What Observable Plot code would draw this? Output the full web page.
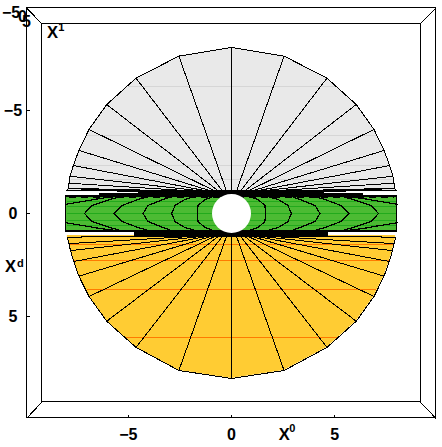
<!DOCTYPE html>
<html><head><meta charset="utf-8">
<script src="https://cdn.jsdelivr.net/npm/d3@7"></script>
<script src="https://cdn.jsdelivr.net/npm/@observablehq/plot@0.6"></script>
<style>html,body{margin:0;padding:0;background:#fff}svg{display:block}</style>
</head><body><div id="c"></div>
<script>
// left half of the fan, from the top of the circle out to the horizontal
const topOuterX = [0,-2.55,-4.63,-6.05,-6.91,-7.40,-7.67,-7.83,-7.88,-7.91,-7.98];
const topOuterY = [-8.06,-7.64,-6.57,-5.29,-4.08,-3.06,-2.33,-1.81,-1.47,-1.23,-1.12];
const botOuterX = [0,-2.55,-4.63,-6.05,-6.91,-7.40,-7.65,-7.81,-7.88,-7.96];
const botOuterY = [8.01,7.62,6.50,5.23,4.03,3.04,2.33,1.80,1.46,1.15];
const innerX = [0,-0.23,-0.41,-0.58,-0.72,-0.85,-0.97,-1.05,-1.2,-1.5,-2.0];
const flatSpokesX = [-7.3,-6.3,-5.2];
// horizontal mesh lines
const greyLineY = [-6.16,-3.77,-2.34,-1.66];
const greyLineHalf = [5.0,7.0,7.6,7.8];
const orangeLineY = [1.50,2.28,3.70,6.02];
const orangeLineHalf = [7.85,7.65,7.0,5.1];
const greenLineY = [-0.56,-0.34,0,0.34,0.58];
// green-band curves: x at each |y| level
const curveY = [0,0.39,0.68,0.85];
const curve1 = [-1.66,-1.62,-1.29,-0.80];
const curve2 = [-2.90,-2.74,-2.26,-1.67];
const curve3 = [-4.29,-4.05,-3.32,-2.84];
const curve4 = [-5.70,-5.31,-4.53,-3.95];
const curve5 = [-7.13,-6.77,-5.89,-5.31];
const armX = [-8.03,-7.10,-6.38,-5.40];
const armY = [0.45,0.60,0.73,0.85];
// dense black mesh bands
const bandX1 = [-8.03,-6.4,-4.5,-4.68,-8.03];
const bandX2 = [-6.4,-4.5,0,-0.5,-4.68];
const bandY1 = [-0.85,-0.97,-1.12,0.87,0.83];
const bandY2 = [-0.76,-0.76,-0.76,1.17,0.90];

const xTicks = [-5,0,5];
const yTicks = [-5,0,5];
const tickLabel = v => v < 0 ? "\u2212" + (-v) : String(v);

const bothSides = (xs, f) => xs.flatMap((x,i)=> x===0 ? [f(0,i)] : [f(x,i), f(-x,i)]);
const spokes = [
  ...bothSides(topOuterX,(x,i)=>({x1:x,y1:topOuterY[i],x2:x===0?0:Math.sign(x)*Math.abs(innerX[i]),y2:-1.05})),
  ...bothSides(botOuterX,(x,i)=>({x1:x,y1:botOuterY[i],x2:x===0?0:Math.sign(x)*Math.abs(innerX[i]),y2:1.07})),
  ...bothSides(flatSpokesX,(x)=>({x1:x,y1:-1.16,x2:Math.sign(x)*1,y2:-1.05})),
  ...bothSides(flatSpokesX,(x)=>({x1:x,y1:1.12,x2:Math.sign(x)*1,y2:1.07}))
];
const halfArc = (xs,ys)=>{
  const L = xs.map((x,i)=>({x,y:ys[i]})).reverse();
  const R = xs.slice(1).map((x,i)=>({x:-x,y:ys[i+1]}));
  return [...L,...R];
};
const topArc = halfArc(topOuterX,topOuterY);
const botArc = halfArc(botOuterX,botOuterY);
const curves = [curve1,curve2,curve3,curve4,curve5];
const curvePts = curves.flatMap((c,k)=>[-1,1].flatMap(s=>{
  const down = curveY.map((y,i)=>({x:s*c[i],y,id:k+"_"+s}));
  const up = curveY.slice(1).map((y,i)=>({x:s*c[i+1],y:-y,id:k+"_"+s}));
  return [...up.reverse(),...down];
}));
const armPts = [-1,1].flatMap(s=>[-1,1].flatMap(t=>armX.map((x,i)=>({x:s*x,y:t*armY[i],id:s+"_"+t}))));
const bands = bandX1.flatMap((x,i)=> {
  const a={x1:x,x2:bandX2[i],y1:bandY1[i],y2:bandY2[i]};
  if (x===-4.68 && bandX2[i]===-0.5) return [{...a,x2:4.68}];
  return [a,{...a,x1:-bandX2[i],x2:-x}];
});
const crisp = {shapeRendering:"crispEdges"};
const font = "'Liberation Sans',Arial,sans-serif";
const label = (txt,x,y,size)=>Plot.text([txt],{x:()=>x,y:()=>y,text:d=>d,fontSize:size,fontWeight:"bold",fontFamily:font,fill:"#000",textAnchor:"start",lineAnchor:"middle"});
const clabel = (txt,x,y,size)=>Plot.text([txt],{x:()=>x,y:()=>y,text:d=>d,fontSize:size,fontWeight:"bold",fontFamily:font,fill:"#000",textAnchor:"middle",lineAnchor:"middle"});

const chart = Plot.plot({
  width:442,height:447,margin:0,
  style:{background:"#fff"},
  x:{domain:[-231/20.62,211/20.62],axis:null},
  y:{domain:[234/20.6,-213/20.6],axis:null},
  marks:[
    // fan fills
    Plot.areaY(topArc,{x:"x",y1:()=>-1.05,y2:"y",fill:"#e9e9e9"}),
    Plot.areaY(botArc,{x:"x",y1:()=>1.07,y2:"y",fill:"#ffcc33"}),
    // horizontal mesh
    Plot.link(greyLineY,{x1:(d,i)=>-greyLineHalf[i],x2:(d,i)=>greyLineHalf[i],y1:d=>d,y2:d=>d,stroke:"#d6d6d6",strokeWidth:1.3,...crisp}),
    Plot.link(orangeLineY,{x1:(d,i)=>-orangeLineHalf[i],x2:(d,i)=>orangeLineHalf[i],y1:d=>d,y2:d=>d,stroke:"#ff7a00",strokeWidth:1.3,...crisp}),
    // spokes and rims
    Plot.link(spokes,{x1:"x1",y1:"y1",x2:"x2",y2:"y2",stroke:"#000",strokeWidth:1,...crisp}),
    Plot.line(topArc,{x:"x",y:"y",stroke:"#000",strokeWidth:1,...crisp}),
    Plot.line(botArc,{x:"x",y:"y",stroke:"#000",strokeWidth:1,...crisp}),
    // black dense mesh bands
    Plot.rect(bands,{x1:"x1",x2:"x2",y1:"y1",y2:"y2",fill:"#000",...crisp}),
    // green band
    Plot.rect([0],{x1:()=>-8.03,x2:()=>8.03,y1:()=>-0.82,y2:()=>0.83,fill:"#4cbb33",stroke:"#000",strokeWidth:1,...crisp}),
    Plot.link(greenLineY,{x1:()=>-8,x2:()=>8,y1:d=>d,y2:d=>d,stroke:"#22aa1c",strokeWidth:1,...crisp}),
    Plot.link([-0.76,0.83],{x1:()=>-7.9,x2:()=>7.9,y1:d=>d,y2:d=>d,stroke:"#000",strokeWidth:1,strokeDasharray:"7,5",...crisp}),
    Plot.line(curvePts,{x:"x",y:"y",z:"id",stroke:"#000",strokeWidth:1.2,...crisp}),
    Plot.line(armPts,{x:"x",y:"y",z:"id",stroke:"#000",strokeWidth:1.2,...crisp}),
    // hole
    Plot.dot([0],{x:()=>0,y:()=>0,r:19.5,fill:"#fff"}),
    // box
    Plot.rect([0],{x1:()=>-9.94,x2:()=>9.92,y1:()=>-9.98,y2:()=>9.95,fill:"none",stroke:"#000",strokeWidth:1,...crisp}),
    Plot.rect([0],{x1:()=>-9.21,x2:()=>9.17,y1:()=>-9.22,y2:()=>9.17,fill:"none",stroke:"#000",strokeWidth:1,...crisp}),
    Plot.link([[-9.94,-9.98,-9.21,-9.22],[9.92,-9.98,9.17,-9.22],[-9.94,9.95,-9.21,9.17],[9.92,9.95,9.17,9.17]],
      {x1:d=>d[0],y1:d=>d[1],x2:d=>d[2],y2:d=>d[3],stroke:"#000",strokeWidth:1,...crisp}),
    // ticks
    Plot.link(xTicks,{x1:d=>d,x2:d=>d,y1:()=>9.95,y2:()=>9.78,stroke:"#000",strokeWidth:1,...crisp}),
    Plot.link(yTicks,{y1:d=>d,y2:d=>d,x1:()=>-9.94,x2:()=>-9.78,stroke:"#000",strokeWidth:1,...crisp}),
    // tick labels
    Plot.text(xTicks,{x:d=>d,y:()=>10.73,text:tickLabel,fontSize:16,fontWeight:"bold",fontFamily:font,fill:"#000",textAnchor:"middle",lineAnchor:"middle"}),
    Plot.text(yTicks,{y:d=>d,x:()=>-10.6,text:tickLabel,fontSize:16,fontWeight:"bold",fontFamily:font,fill:"#000",textAnchor:"middle",lineAnchor:"middle"}),
    clabel("\u22125",-10.69,-9.76,16),
    clabel("0",-10.14,-9.53,16),
    clabel("5",-9.94,-9.31,16),
    // axis names
    label("X",-8.95,-8.76,16.5),
    label("1",-8.4,-9.02,11),
    label("X",-10.98,2.6,16.5),
    label("d",-10.4,2.42,11),
    label("X",2.29,10.75,16.5),
    label("0",2.8,10.45,11)
  ]
});
document.getElementById("c").appendChild(chart);
</script></body></html>
